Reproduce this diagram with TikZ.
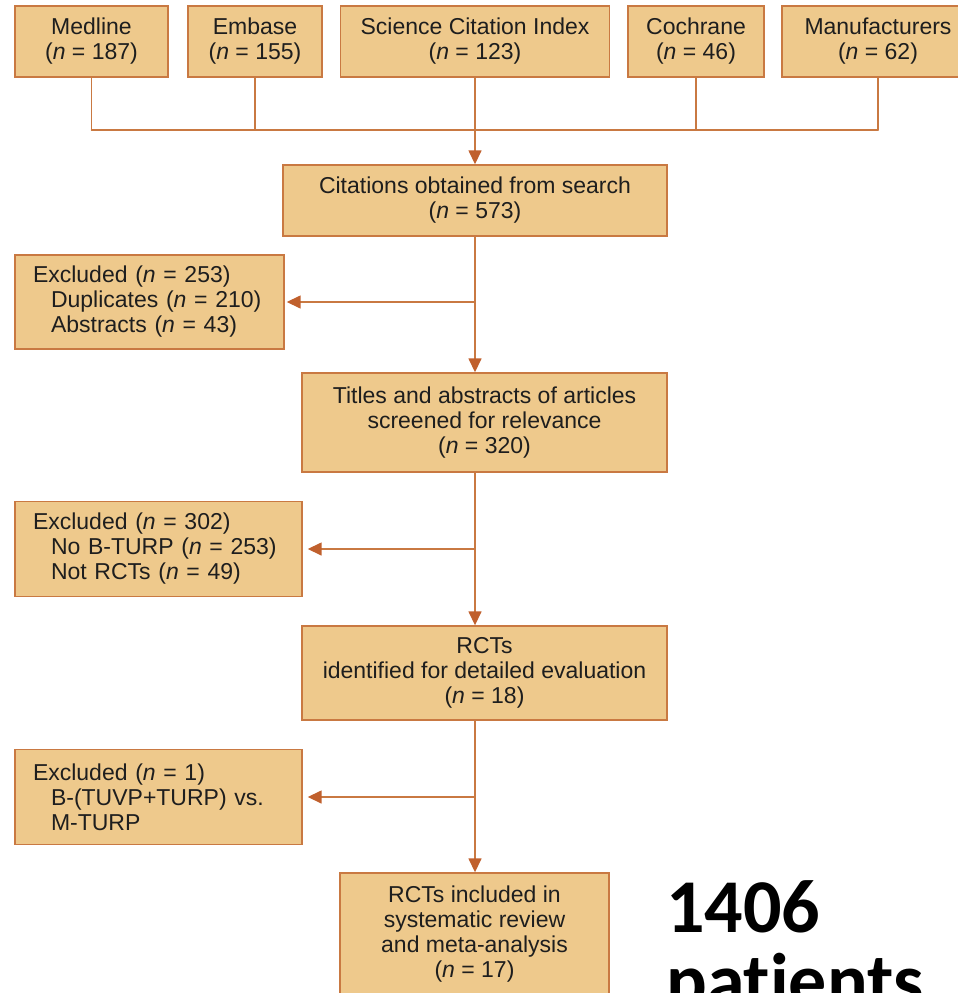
\documentclass[tikz,border=0pt]{standalone}
\usepackage{fontspec}
\setmainfont{Liberation Sans}
\newfontfamily\calibri[Ligatures=NoCommon]{Carlito}
\usetikzlibrary{arrows.meta}
\definecolor{boxfill}{RGB}{238,201,140}
\definecolor{boxline}{RGB}{201,121,66}
\definecolor{arrowc}{RGB}{192,96,45}
\definecolor{ink}{RGB}{30,30,30}

\begin{document}
\begin{tikzpicture}[x=1pt, y=-1pt, line cap=round,
  box/.style={draw=boxline, fill=boxfill, line width=1.4pt, inner sep=0pt,
    align=center, text=ink, font=\fontsize{23}{25}\selectfont},
  exbox/.style={box, align=left, inner xsep=18pt},
  link/.style={draw=boxline, line width=1.5pt},
  arr/.style={link, -{Triangle[length=14pt,width=13pt,color=arrowc]}}]
  \useasboundingbox (0,0) rectangle (958,993);
  % databases searched
  \foreach \name/\x/\w/\src/\cnt in {
    med/91.5/153/Medline/187,
    emb/255/134/Embase/155,
    sci/475/269/Science Citation Index/123,
    coc/696/136/Cochrane/46,
    man/878/192/Manufacturers/62} {
    \node[box, minimum width=\w pt, minimum height=71pt] (\name) at (\x,41.5)
      {\src\\(\textit{n} = \cnt)};
  }
  \coordinate (join) at (475,130);
  \foreach \name in {med,emb,coc,man}
    \draw[link] (\name.south) -- (\name.south |- join);
  \draw[link] (med.south |- join) -- (man.south |- join);

  % main chain
  \node[box, minimum width=384pt, minimum height=71pt] (cit) at (475,200.5)
    {Citations obtained from search\\(\textit{n} = 573)};
  \node[box, minimum width=365pt, minimum height=99pt] (tit) at (484.5,422.5)
    {Titles and abstracts of articles\\screened for relevance\\(\textit{n} = 320)};
  \node[box, minimum width=365pt, minimum height=94pt] (rct) at (484.5,673)
    {RCTs\\identified for detailed evaluation\\(\textit{n} = 18)};
  \node[box, minimum width=269pt, minimum height=123pt] (inc) at (474.5,934.5)
    {RCTs included in\\systematic review\\and meta-analysis\\(\textit{n} = 17)};

  % exclusions
  \node[exbox, text width=233pt, minimum height=94pt] (ex1) at (149.5,302)
    {Excluded (\textit{n} = 253)\\\hspace*{18pt}Duplicates (\textit{n} = 210)\\
     \hspace*{18pt}Abstracts (\textit{n} = 43)};
  \node[exbox, text width=251pt, minimum height=95pt] (ex2) at (158.5,549)
    {Excluded (\textit{n} = 302)\\\hspace*{18pt}No B-TURP (\textit{n} = 253)\\
     \hspace*{18pt}Not RCTs (\textit{n} = 49)};
  \node[exbox, text width=251pt, minimum height=95pt] (ex3) at (158.5,797)
    {Excluded (\textit{n} = 1)\\\hspace*{18pt}B-(TUVP+TURP) vs.\\
     \hspace*{18pt}M-TURP};

  \draw[arr] (sci.south) -- (cit.north);
  \draw[arr] (cit.south) -- (cit.south |- tit.north);
  \draw[arr] (tit.south -| cit) -- (rct.north -| cit);
  \draw[arr] (rct.south -| cit) -- (inc.north -| cit);
  \draw[arr, shorten >=2pt] (cit |- ex1.east) -- (ex1.east);
  \draw[arr, shorten >=5pt] (cit |- ex2.east) -- (ex2.east);
  \draw[arr, shorten >=5pt] (cit |- ex3.east) -- (ex3.east);

  \node[font=\calibri\bfseries\fontsize{76}{74}\selectfont, anchor=north west,
    inner sep=0pt, align=left] (pts) at (666,880) {1406\\patients};
\end{tikzpicture}
\end{document}
